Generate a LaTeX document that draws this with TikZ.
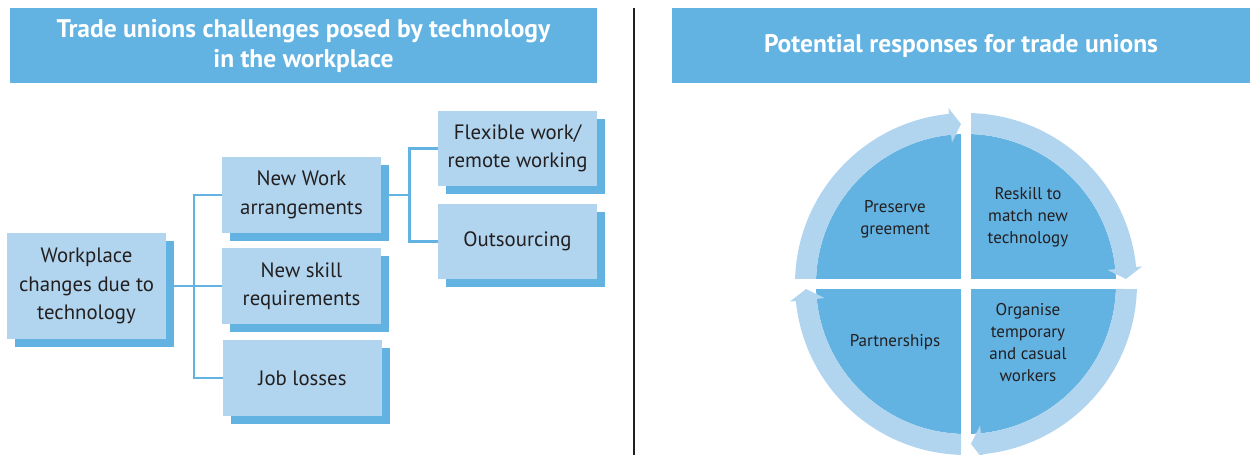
\documentclass[tikz,border=0pt]{standalone}
\usepackage{fontspec}
\setmainfont{PT Sans}
\usetikzlibrary{shadows,backgrounds}
\definecolor{boxlight}{RGB}{177,213,239}
\definecolor{boxdark}{RGB}{98,178,226}
\definecolor{inktext}{RGB}{35,31,32}

\tikzset{
  chbox/.style={fill=boxlight, minimum width=159pt, minimum height=76pt,
    align=center, inner sep=0pt, text=inktext,
    font=\fontsize{20.8}{28.5}\selectfont,
    drop shadow={shadow xshift=8pt, shadow yshift=-8pt, fill=boxdark, opacity=1}},
  header/.style={fill=boxdark, minimum height=75pt, inner sep=0pt, text=white,
    font=\bfseries\fontsize{25.5}{30}\selectfont, align=center},
  link/.style={draw=boxdark, line width=2.5pt},
  ring/.style={fill=boxlight},
  quad/.style={fill=boxdark},
  qlabel/.style={text=inktext, align=center, font=\fontsize{17}{22}\selectfont},
  % one quarter of the cycle: a band from the left gap to the top gap, ending in a head
  ringarrow/.pic={
    \fill[ring] (178.32:171) arc[start angle=178.32, end angle=95.7, radius=171]
      -- (95.7:177) -- (91.8:160) -- (95.7:142) -- (95.7:150)
      arc[start angle=95.7, end angle=178.09, radius=150] -- cycle;
  },
}

\begin{document}
\begin{tikzpicture}[x=1pt, y=1pt]
\useasboundingbox (0,0) rectangle (1254,455);

% headers
\node[header, minimum width=587pt] (hl) at (303.5,409.5)
  {Trade unions challenges posed by technology\\in the workplace};
\node[header, minimum width=578pt] (hr) at (961,409.5)
  {Potential responses for trade unions};

% divider
\draw[line width=2pt, inktext] (634,0) -- (634,447);

% challenge tree
\node[chbox, minimum height=106pt] (wp) at (86.5,169) {Workplace\\changes due to\\technology};
\node[chbox] (nw) at (301.5,260) {New Work\\arrangements};
\node[chbox] (ns) at (301.5,169) {New skill\\requirements};
\node[chbox] (jl) at (302.5,77) {Job losses};
\node[chbox, minimum height=75pt] (fw) at (517.5,306.5) {Flexible work/\\remote working};
\node[chbox, minimum height=75pt] (os) at (517.5,213.5) {Outsourcing};

\begin{scope}[on background layer]
  \coordinate (busa) at (194,169);
  \coordinate (busb) at (409.5,260);
  \draw[link] (wp.east) -- (busa);
  \draw[link] (nw.west) -| (busa) |- (jl.west);
  \draw[link] (busa) -- (ns.west);
  \draw[link] (nw.east) -- (busb);
  \draw[link] (fw.west) -| (busb) |- (os.west);
\end{scope}

% response cycle: four quadrants
\begin{scope}[shift={(966,171)}]
  \clip (0,0) circle[radius=150];
  \fill[quad] (-5,5) rectangle (-160,160);
  \fill[quad] (5,5) rectangle (160,160);
  \fill[quad] (5,-5) rectangle (160,-160);
  \fill[quad] (-5,-5) rectangle (-160,-160);
\end{scope}

% ring of arrows running clockwise
\pic at (966,171) {ringarrow};
\pic[rotate=-90] at (966,171) {ringarrow};
\pic[rotate=-180] at (966,171) {ringarrow};
\pic[rotate=-270] at (966,171) {ringarrow};

\node[qlabel] (qtl) at (895,236) {Preserve\\greement};
\node[qlabel] (qtr) at (1028,238) {Reskill to\\match new\\technology};
\node[qlabel] (qbr) at (1028,112.5) {Organise\\temporary\\and casual\\workers};
\node[qlabel] (qbl) at (895,113) {Partnerships};
\end{tikzpicture}
\end{document}
